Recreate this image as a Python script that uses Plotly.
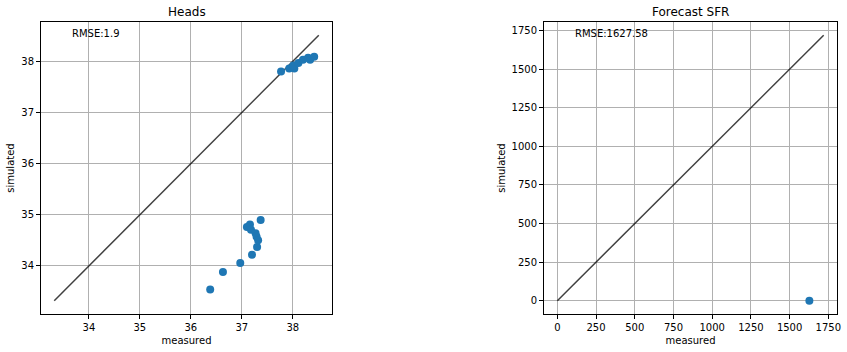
import plotly.graph_objects as go

# Heads panel data
heads_measured = [36.38, 36.63, 36.97, 37.20, 37.30, 37.37, 37.10, 37.16, 37.18, 37.27, 37.29, 37.32,
                  37.77, 37.93, 38.03, 38.01, 38.11, 38.20, 38.30, 38.34, 38.42]
heads_simulated = [33.54, 33.88, 34.06, 34.22, 34.37, 34.90, 34.76, 34.81, 34.71, 34.64, 34.57, 34.50,
                   37.80, 37.86, 37.86, 37.92, 37.97, 38.03, 38.07, 38.03, 38.09]
heads_line = [33.32, 38.51]
heads_rmse = "RMSE:1.9"

# Forecast SFR panel data
sfr_measured = [1627.58]
sfr_simulated = [0.0]
sfr_line = [0, 1720]
sfr_rmse = "RMSE:1627.58"

W, H = 847, 352
FONT = "DejaVu Sans"
BLUE = "#1f77b4"

lx0, lx1 = 41 / W, 332 / W
rx0, rx1 = 544 / W, 837 / W
y0, y1 = 1 - 314 / H, 1 - 22 / H

fig = go.Figure()
fig.add_trace(go.Scatter(x=heads_line, y=heads_line, mode="lines",
                         line=dict(color="rgba(0,0,0,0.75)", width=1.5),
                         xaxis="x", yaxis="y", showlegend=False))
fig.add_trace(go.Scatter(x=heads_measured, y=heads_simulated, mode="markers",
                         marker=dict(color=BLUE, size=8),
                         xaxis="x", yaxis="y", showlegend=False))
fig.add_trace(go.Scatter(x=sfr_line, y=sfr_line, mode="lines",
                         line=dict(color="rgba(0,0,0,0.75)", width=1.5),
                         xaxis="x2", yaxis="y2", showlegend=False))
fig.add_trace(go.Scatter(x=sfr_measured, y=sfr_simulated, mode="markers",
                         marker=dict(color=BLUE, size=8),
                         xaxis="x2", yaxis="y2", showlegend=False))


def ax(domain, rng, dtick, anchor, title, standoff):
    return dict(domain=domain, range=rng, dtick=dtick, tick0=0, anchor=anchor,
                showgrid=True, gridcolor="#b0b0b0", gridwidth=0.8,
                showline=True, mirror=True, linecolor="black", linewidth=1,
                ticks="outside", ticklen=4, tickcolor="black", tickwidth=1,
                zeroline=False, automargin=False,
                tickfont=dict(family=FONT, size=10, color="black"),
                title=dict(text=title, font=dict(family=FONT, size=10, color="black"),
                           standoff=standoff))


def span(line):
    d = line[1] - line[0]
    return [line[0] - 0.05 * d, line[1] + 0.05 * d]


fig.update_layout(
    width=W, height=H,
    margin=dict(l=0, r=0, t=0, b=0),
    paper_bgcolor="white", plot_bgcolor="white",
    xaxis=ax([lx0, lx1], span(heads_line), 1, "y", "measured", 4),
    yaxis=ax([y0, y1], span(heads_line), 1, "x", "simulated", 4),
    xaxis2=ax([rx0, rx1], span(sfr_line), 250, "y2", "measured", 4),
    yaxis2=ax([y0, y1], span(sfr_line), 250, "x2", "simulated", 4),
    annotations=[
        dict(text="Heads", x=(lx0 + lx1) / 2, y=1 - 12 / H, xref="paper", yref="paper",
             showarrow=False, font=dict(family=FONT, size=12, color="black"),
             xanchor="center", yanchor="middle"),
        dict(text="Forecast SFR", x=(rx0 + rx1) / 2, y=1 - 12 / H, xref="paper", yref="paper",
             showarrow=False, font=dict(family=FONT, size=12, color="black"),
             xanchor="center", yanchor="middle"),
        dict(text=heads_rmse, x=lx0 + 0.1 * (lx1 - lx0), y=1 - 34 / H, xref="paper", yref="paper",
             showarrow=False, font=dict(family=FONT, size=10, color="black"),
             xanchor="left", yanchor="middle"),
        dict(text=sfr_rmse, x=rx0 + 0.1 * (rx1 - rx0), y=1 - 34 / H, xref="paper", yref="paper",
             showarrow=False, font=dict(family=FONT, size=10, color="black"),
             xanchor="left", yanchor="middle"),
    ],
)

fig.write_html("out.html", config={"displayModeBar": False})
